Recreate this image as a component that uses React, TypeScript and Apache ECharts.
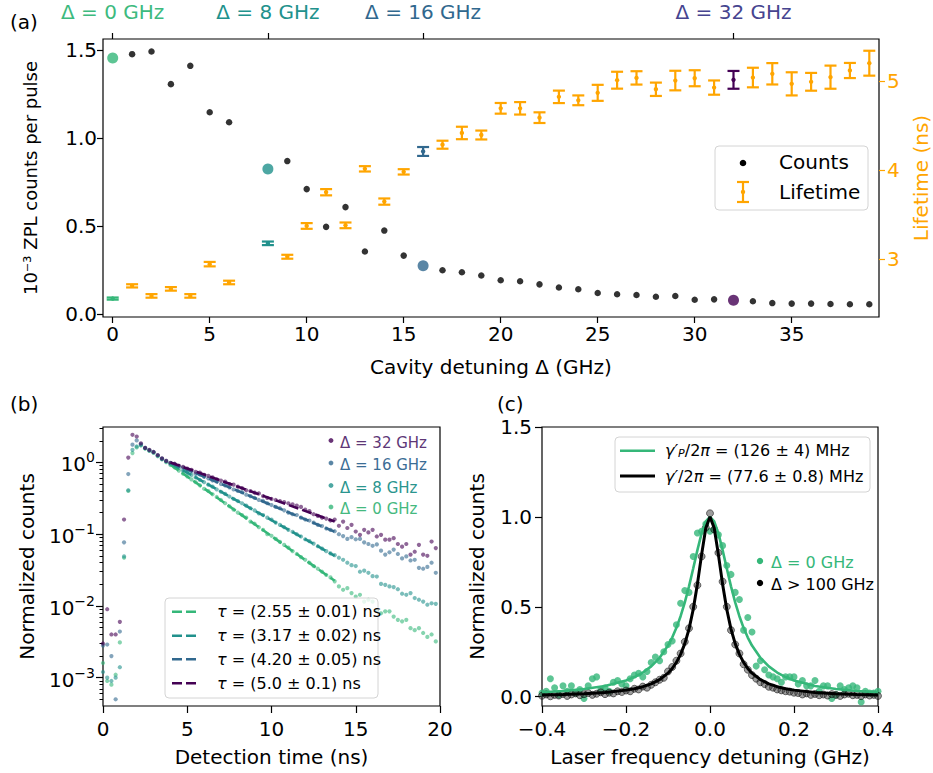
import React, { useEffect, useRef } from "react";
import * as echarts from "echarts";

const FONT = "DejaVu Sans";

// ---------- Panel (a) ----------
const detuning = [0, 1, 2, 3, 4, 5, 6, 8, 9, 10, 11, 12, 13, 14, 15, 16, 17, 18, 19, 20, 21, 22, 23, 24, 25, 26, 27, 28, 29, 30, 31, 32, 33, 34, 35, 36, 37, 38, 39];
const counts = [1.453, 1.475, 1.49, 1.305, 1.409, 1.146, 1.089, 0.824, 0.869, 0.71, 0.496, 0.608, 0.356, 0.475, 0.333, 0.276, 0.25, 0.239, 0.22, 0.193, 0.188, 0.17, 0.152, 0.142, 0.121, 0.114, 0.11, 0.1, 0.104, 0.083, 0.085, 0.08, 0.074, 0.064, 0.061, 0.061, 0.059, 0.057, 0.057];
const lifetime = [2.553, 2.696, 2.583, 2.662, 2.583, 2.94, 2.734, 3.174, 3.023, 3.369, 3.748, 3.376, 4.011, 3.643, 3.977, 4.206, 4.282, 4.414, 4.391, 4.691, 4.691, 4.586, 4.82, 4.781, 4.865, 5.007, 5.033, 4.905, 5.003, 5.029, 4.924, 5.011, 5.037, 5.079, 4.966, 4.989, 5.041, 5.116, 5.198];
const lifetimeErr = [0.012, 0.018, 0.02, 0.02, 0.02, 0.025, 0.02, 0.02, 0.022, 0.032, 0.035, 0.032, 0.03, 0.035, 0.03, 0.05, 0.045, 0.07, 0.05, 0.06, 0.07, 0.06, 0.07, 0.055, 0.09, 0.095, 0.075, 0.075, 0.11, 0.09, 0.08, 0.1, 0.11, 0.12, 0.13, 0.1, 0.13, 0.085, 0.14];
const highlightDetunings = [0, 8, 16, 32];
const highlightColors = ["#35b779", "#21918c", "#31688e", "#440154"];
const topTickLabels = ["Δ = 0 GHz", "Δ = 8 GHz", "Δ = 16 GHz", "Δ = 32 GHz"];
const topLabelColors = ["#3dba7e", "#21918c", "#31688e", "#46448f"];
const aXTicks = [0, 5, 10, 15, 20, 25, 30, 35];
const aYTicks = [0, 0.5, 1.0, 1.5];
const aY2Ticks = [3, 4, 5];

// ---------- Panel (b) ----------
const time = [0, 0.25, 0.5, 0.75, 1, 1.25, 1.5, 1.75, 2, 2.25, 2.5, 2.75, 3, 3.25, 3.5, 3.75, 4, 4.25, 4.5, 4.75, 5, 5.25, 5.5, 5.75, 6, 6.25, 6.5, 6.75, 7, 7.25, 7.5, 7.75, 8, 8.25, 8.5, 8.75, 9, 9.25, 9.5, 9.75, 10, 10.25, 10.5, 10.75, 11, 11.25, 11.5, 11.75, 12, 12.25, 12.5, 12.75, 13, 13.25, 13.5, 13.75, 14, 14.25, 14.5, 14.75, 15, 15.25, 15.5, 15.75, 16, 16.25, 16.5, 16.75, 17, 17.25, 17.5, 17.75, 18, 18.25, 18.5, 18.75, 19, 19.25, 19.5, 19.75];
const decay0 = [0.0016, 0.0009, 0.0008, 0.0011, 0.0031, 0.047, 0.40, 1.35, 1.62, 1.72, 1.56, 1.45, 1.36, 1.22, 1.10, 1.01,
  0.92, 0.85, 0.77, 0.70, 0.64, 0.58, 0.53, 0.48, 0.43, 0.40, 0.36, 0.33, 0.30, 0.27, 0.245, 0.22, 0.20, 0.185, 0.17, 0.15, 0.14, 0.125, 0.115, 0.10, 0.095, 0.086, 0.078, 0.071, 0.065, 0.058, 0.053, 0.048, 0.044, 0.040, 0.036, 0.033, 0.030, 0.027, 0.025, 0.022,
  0.0187, 0.0168, 0.0177, 0.0151, 0.0135, 0.0143, 0.0115, 0.0122, 0.0115, 0.0088, 0.0079, 0.0084, 0.0084, 0.0071, 0.0064, 0.0061, 0.0064, 0.0049, 0.0046, 0.0049, 0.0042, 0.0037, 0.0040, 0.0032];
const decay8 = [0.0012, 0.001, 0.0009, 0.001, 0.0014, 0.049, 0.41, 1.5, 1.67, 1.75, 1.58, 1.47, 1.38, 1.24, 1.12, 1.03,
  0.96, 0.91, 0.84, 0.77, 0.72, 0.67, 0.62, 0.57, 0.53, 0.49, 0.46, 0.42, 0.39, 0.365, 0.335, 0.31, 0.29, 0.27, 0.25, 0.23, 0.215, 0.195, 0.185, 0.17, 0.16, 0.145, 0.135, 0.125, 0.115, 0.108, 0.10, 0.093, 0.085, 0.08, 0.074, 0.068, 0.063, 0.058, 0.054, 0.051,
  0.047, 0.044, 0.040, 0.037, 0.036, 0.030, 0.031, 0.029, 0.026, 0.0257, 0.0203, 0.0197, 0.0187, 0.0183, 0.0171, 0.0148, 0.0143, 0.0151, 0.0129, 0.0122, 0.0115, 0.0104, 0.0109, 0.0107];
const decay16 = [0.0028, 0.0029, 0.002, 0.0005, 0.0044, 0.077, 0.69, 1.77, 2.03, 1.8, 1.6, 1.48, 1.4, 1.26, 1.13, 1.05,
  0.98, 0.95, 0.89, 0.85, 0.79, 0.76, 0.70, 0.68, 0.63, 0.60, 0.56, 0.54, 0.50, 0.48, 0.45, 0.42, 0.40, 0.385, 0.355, 0.34, 0.32, 0.30, 0.29, 0.27, 0.255, 0.24, 0.23, 0.215, 0.20, 0.19, 0.185, 0.17, 0.16, 0.155, 0.145, 0.135, 0.13, 0.12, 0.115, 0.11,
  0.100, 0.094, 0.086, 0.091, 0.085, 0.086, 0.077, 0.073, 0.069, 0.072, 0.059, 0.052, 0.056, 0.061, 0.053, 0.046, 0.049, 0.043, 0.044, 0.034, 0.033, 0.035, 0.040, 0.029];
const decay32 = [0.003, 0.009, 0.004, 0.004, 0.006, 0.16, 1.17, 2.43, 2.3, 1.85, 1.6, 1.5, 1.4, 1.27, 1.14, 1.05,
  0.99, 0.96, 0.90, 0.87, 0.82, 0.79, 0.74, 0.72, 0.67, 0.65, 0.62, 0.58, 0.56, 0.54, 0.50, 0.49, 0.46, 0.44, 0.41, 0.40, 0.38, 0.37, 0.34, 0.32, 0.31, 0.30, 0.29, 0.28, 0.27, 0.26, 0.25, 0.24, 0.22, 0.21, 0.19, 0.18, 0.17, 0.165, 0.155, 0.16,
  0.131, 0.150, 0.122, 0.135, 0.109, 0.098, 0.115, 0.106, 0.115, 0.093, 0.098, 0.084, 0.084, 0.088, 0.073, 0.067, 0.073, 0.052, 0.057, 0.071, 0.052, 0.050, 0.079, 0.064];
const fitTime = [4, 13.75];
const fit0 = [0.933, 0.0224];
const fit8 = [0.977, 0.05];
const fit16 = [1.0, 0.108];
const fit32 = [1.0, 0.15];
const decayNames = ["Δ = 0 GHz", "Δ = 8 GHz", "Δ = 16 GHz", "Δ = 32 GHz"];
const decayColors = ["#35b779", "#21918c", "#31688e", "#440154"];
const decayTextColors = ["#45b97f", "#2a958e", "#3b6d95", "#5e3777"];
const tauLabels = ["(2.55 ± 0.01) ns", "(3.17 ± 0.02) ns", "(4.20 ± 0.05) ns", "(5.0 ± 0.1) ns"];
const bXTicks = [0, 5, 10, 15, 20];
const bYTicks = [0.001, 0.01, 0.1, 1];
const bYTickExponents = ["−3", "−2", "−1", "0"];
const bMinorTicks = [0.0005, 0.0006, 0.0007, 0.0008, 0.0009, 0.002, 0.003, 0.004, 0.005, 0.006, 0.007, 0.008, 0.009, 0.02, 0.03, 0.04, 0.05, 0.06, 0.07, 0.08, 0.09, 0.2, 0.3, 0.4, 0.5, 0.6, 0.7, 0.8, 0.9, 2, 3];

// ---------- Panel (c) ----------
const laserX = [-0.40, -0.39, -0.38, -0.37, -0.36, -0.35, -0.34, -0.33, -0.32, -0.31, -0.30, -0.29, -0.28, -0.27, -0.26, -0.25, -0.24, -0.23, -0.22, -0.21, -0.20, -0.19, -0.18, -0.17, -0.16, -0.15, -0.14, -0.13, -0.12, -0.11, -0.10, -0.09, -0.08, -0.07, -0.06, -0.05, -0.04, -0.03, -0.02, -0.01, 0, 0.01, 0.02, 0.03, 0.04, 0.05, 0.06, 0.07, 0.08, 0.09, 0.10, 0.11, 0.12, 0.13, 0.14, 0.15, 0.16, 0.17, 0.18, 0.19, 0.20, 0.21, 0.22, 0.23, 0.24, 0.25, 0.26, 0.27, 0.28, 0.29, 0.30, 0.31, 0.32, 0.33, 0.34, 0.35, 0.36, 0.37, 0.38, 0.39, 0.40];
const specResonant = [0.02, 0.03, 0.10, 0.05, 0.01, 0.06, 0.03, 0.06, 0.02, 0.04, -0.01, 0.06, 0.10, 0.11, 0.04, 0.05, 0.03, 0.08, 0.09, 0.07, 0.06, 0.10, 0.12, 0.13, 0.11, 0.14, 0.19, 0.22, 0.20, 0.25, 0.29, 0.31, 0.40, 0.52, 0.59, 0.58, 0.78, 0.91, 0.92, 0.96, 0.92, 0.93, 0.90, 0.84, 0.73, 0.68, 0.58, 0.54, 0.37, 0.44, 0.36, 0.17, 0.20, 0.15, 0.12, 0.11, 0.10, 0.08, 0.11, 0.11, 0.11, 0.07, 0.09, 0.06, 0.06, 0.09, 0.03, 0.06, 0.06, -0.01, 0.01, 0.06, 0.04, 0.05, 0.06, 0.05, -0.03, 0.03, 0.02, 0.02, 0.03];
const specFar = [0.005, 0.012, 0.002, 0.010, 0.006, 0.015, 0.004, 0.012, 0.018, 0.008, 0.014, 0.020, 0.010, 0.016, 0.024, 0.014, 0.022, 0.018, 0.030, 0.026, 0.034, 0.030, 0.044, 0.040, 0.056, 0.050, 0.066, 0.080, 0.094, 0.105, 0.140, 0.165, 0.200, 0.240, 0.305, 0.38, 0.50, 0.62, 0.78, 0.94, 1.02, 0.93, 0.80, 0.64, 0.50, 0.37, 0.29, 0.24, 0.18, 0.15, 0.12, 0.10, 0.08, 0.07, 0.055, 0.05, 0.040, 0.035, 0.030, 0.028, 0.022, 0.020, 0.012, 0.018, 0.010, 0.015, 0.008, 0.012, 0.006, 0.014, 0.010, 0.004, 0.012, 0.016, 0.008, 0.010, 0.003, 0.012, 0.006, 0.010, 0.004];
const fitX = [-0.4, -0.35, -0.3, -0.25, -0.2, -0.18, -0.16, -0.14, -0.12, -0.1, -0.09, -0.08, -0.07, -0.06, -0.05, -0.04, -0.03, -0.02, -0.01, 0, 0.01, 0.02, 0.03, 0.04, 0.05, 0.06, 0.07, 0.08, 0.09, 0.1, 0.12, 0.14, 0.16, 0.18, 0.2, 0.25, 0.3, 0.35, 0.4];
const fitResonant = [0.0242, 0.0314, 0.0422, 0.0597, 0.0903, 0.1091, 0.1342, 0.1684, 0.2161, 0.2841, 0.3289, 0.3828, 0.4475, 0.5244, 0.6135, 0.7127, 0.8152, 0.9084, 0.9754, 1, 0.9754, 0.9084, 0.8152, 0.7127, 0.6135, 0.5244, 0.4475, 0.3828, 0.3289, 0.2841, 0.2161, 0.1684, 0.1342, 0.1091, 0.0903, 0.0597, 0.0422, 0.0314, 0.0242];
const fitFar = [0.0093, 0.0121, 0.0165, 0.0235, 0.0363, 0.0444, 0.0555, 0.0713, 0.0946, 0.1308, 0.1567, 0.1904, 0.235, 0.2949, 0.3759, 0.4848, 0.6259, 0.7901, 0.9377, 1, 0.9377, 0.7901, 0.6259, 0.4848, 0.3759, 0.2949, 0.235, 0.1904, 0.1567, 0.1308, 0.0946, 0.0713, 0.0555, 0.0444, 0.0363, 0.0235, 0.0165, 0.0121, 0.0093];
const cXTicks = [-0.4, -0.2, 0, 0.2, 0.4];
const cYTicks = [0, 0.5, 1.0, 1.5];

const ORANGE = "#ffa500";

function axisBase(tickLen: number, margin: number, ticks: number[], formatter: (v: number) => string, color = "#000") {
  return {
    type: "value",
    axisLine: { show: false, onZero: false },
    splitLine: { show: false },
    axisTick: { show: true, length: tickLen, customValues: ticks, lineStyle: { color, width: 1.2 } },
    axisLabel: { customValues: ticks, margin, fontSize: 20, fontFamily: FONT, color, formatter },
    nameLocation: "middle",
    nameTextStyle: { fontSize: 20, fontFamily: FONT, color },
  };
}

function buildOption() {
  const hlIndex = (x: number) => highlightDetunings.indexOf(x);
  const gridStyle = { show: true, borderColor: "#000", borderWidth: 1.2, backgroundColor: "rgba(0,0,0,0)", containLabel: false, outerBoundsMode: "none" };

  const topRich: any = {};
  topLabelColors.forEach((c, i) => {
    topRich["c" + i] = { color: c, fontSize: 20, fontFamily: FONT };
  });

  const fmtMinus = (v: number) => (v < 0 ? "−" : "") + Math.abs(v).toFixed(1);

  const xAxis: any[] = [
    { ...axisBase(6, 7, aXTicks, (v) => String(v)), gridIndex: 0, min: -0.5, max: 39.5, position: "bottom", name: "Cavity detuning Δ (GHz)", nameGap: 40 },
    {
      ...axisBase(6, 17, highlightDetunings, (v) => {
        const i = highlightDetunings.indexOf(Math.round(v));
        return "{c" + i + "|" + topTickLabels[i] + "}";
      }),
      gridIndex: 0, min: -0.5, max: 39.5, position: "top",
    },
    { ...axisBase(7, 13, bXTicks, (v) => String(v)), gridIndex: 1, min: 0, max: 20, position: "bottom", name: "Detection time (ns)", nameGap: 41 },
    { ...axisBase(7, 13, cXTicks, fmtMinus), gridIndex: 2, min: -0.4, max: 0.4, position: "bottom", name: "Laser frequency detuning (GHz)", nameGap: 41 },
  ];
  xAxis[1].axisLabel.rich = topRich;

  const bLog: any = {
    ...axisBase(7, 8, bYTicks, (v) => {
      const p = Math.round(Math.log10(v));
      return "{b|10}{s|" + bYTickExponents[p + 3] + "}";
    }),
    type: "log", logBase: 10, gridIndex: 1, min: 0.000403, max: 3.12, position: "left", name: "Normalized counts", nameGap: 66, nameRotate: 90,
  };
  bLog.axisLabel.rich = {
    b: { fontSize: 20, fontFamily: FONT, color: "#000", lineHeight: 24, verticalAlign: "bottom" },
    s: { fontSize: 14, fontFamily: FONT, color: "#000", lineHeight: 24, verticalAlign: "top" },
  };

  const aLeft: any = { ...axisBase(6, 6, aYTicks, (v) => v.toFixed(1)), gridIndex: 0, min: -0.015, max: 1.561, position: "left", name: "10⁻³ ZPL counts per pulse", nameGap: 64, nameRotate: 90 };
  aLeft.nameTextStyle = { fontSize: 18, fontFamily: FONT, color: "#000" };

  const yAxis: any[] = [
    aLeft,
    { ...axisBase(6, 8, aY2Ticks, (v) => String(Math.round(v)), ORANGE), gridIndex: 0, min: 2.346, max: 5.47, position: "right", name: "Lifetime (ns)", nameGap: 28, nameRotate: 90 },
    bLog,
    {
      type: "log", logBase: 10, gridIndex: 1, min: 0.000403, max: 3.12, position: "left",
      axisLine: { show: false, onZero: false }, splitLine: { show: false },
      axisTick: { show: true, length: 3.5, customValues: bMinorTicks, lineStyle: { color: "#000", width: 1 } },
      axisLabel: { show: false },
    },
    { ...axisBase(7, 10, cYTicks, (v) => v.toFixed(1)), gridIndex: 2, min: -0.052, max: 1.5, position: "left", name: "Normalized counts", nameGap: 55, nameRotate: 90 },
  ];

  const series: any[] = [];

  // (a) counts
  series.push({
    type: "scatter",
    xAxisIndex: 0,
    yAxisIndex: 0,
    z: 3,
    data: detuning.map((x, i) => {
      const h = hlIndex(x);
      return {
        value: [x, counts[i]],
        symbolSize: h >= 0 ? 11 : 6.5,
        itemStyle: { color: h >= 0 ? highlightColors[h] : "#000" },
      };
    }),
  });

  // (a) lifetime error bars
  series.push({
    type: "custom",
    xAxisIndex: 0,
    yAxisIndex: 1,
    z: 4,
    data: detuning.map((x, i) => [x, lifetime[i], lifetimeErr[i]]),
    renderItem: (params: any, api: any) => {
      const x = api.value(0);
      const y = api.value(1);
      const e = api.value(2);
      const top = api.coord([x, y + e]);
      const bot = api.coord([x, y - e]);
      const mid = api.coord([x, y]);
      const h = hlIndex(x);
      const color = h >= 0 ? highlightColors[h] : ORANGE;
      const hw = 6;
      const st = { stroke: color, lineWidth: 2.2 };
      return {
        type: "group",
        children: [
          { type: "line", shape: { x1: top[0], y1: top[1], x2: bot[0], y2: bot[1] }, style: st },
          { type: "line", shape: { x1: top[0] - hw, y1: top[1], x2: top[0] + hw, y2: top[1] }, style: st },
          { type: "line", shape: { x1: bot[0] - hw, y1: bot[1], x2: bot[0] + hw, y2: bot[1] }, style: st },
          { type: "circle", shape: { cx: mid[0], cy: mid[1], r: 2.2 }, style: { fill: color } },
        ],
      };
    },
  });

  // (b) decays
  const decays = [decay0, decay8, decay16, decay32];
  const fits = [fit0, fit8, fit16, fit32];
  decays.forEach((arr, k) => {
    series.push({
      type: "scatter",
      name: decayNames[k],
      xAxisIndex: 2,
      yAxisIndex: 2,
      symbolSize: 4.2,
      itemStyle: { color: decayColors[k], opacity: 0.6 },
      data: time.map((t, i) => [t, arr[i]]),
    });
    series.push({
      type: "line",
      xAxisIndex: 2,
      yAxisIndex: 2,
      symbol: "none",
      lineStyle: { color: decayColors[k], width: 2.6, type: [10, 4] },
      data: fitTime.map((t, i) => [t, fits[k][i]]),
    });
  });

  // (c) spectra
  series.push({
    type: "scatter",
    xAxisIndex: 3,
    yAxisIndex: 4,
    symbolSize: 7,
    itemStyle: { color: "#35b779" },
    data: laserX.map((x, i) => [x, specResonant[i]]),
  });
  series.push({
    type: "scatter",
    xAxisIndex: 3,
    yAxisIndex: 4,
    symbolSize: 7,
    itemStyle: { color: "rgba(50,50,50,0.6)", borderColor: "rgba(0,0,0,0.8)", borderWidth: 0.8 },
    data: laserX.map((x, i) => [x, specFar[i]]),
  });
  series.push({
    type: "line",
    xAxisIndex: 3,
    yAxisIndex: 4,
    symbol: "none",
    lineStyle: { color: "#35b779", width: 2.6 },
    data: fitX.map((x, i) => [x, fitResonant[i]]),
  });
  series.push({
    type: "line",
    xAxisIndex: 3,
    yAxisIndex: 4,
    symbol: "none",
    lineStyle: { color: "#000", width: 3 },
    data: fitX.map((x, i) => [x, fitFar[i]]),
  });

  // ---------- graphics: panel labels and legends ----------
  const txt = (x: number, y: number, text: string, size: number, fill = "#000", extra: any = {}) => ({
    type: "text",
    x,
    y,
    z: 100,
    style: { text, fontSize: size, fontFamily: FONT, fill, verticalAlign: "middle", align: "left", ...extra },
  });
  const graphic: any[] = [];
  graphic.push(txt(10, 22, "(a)", 20));
  graphic.push(txt(10, 404, "(b)", 20));
  graphic.push(txt(497, 404, "(c)", 20));

  // legend (a)
  graphic.push({ type: "rect", z: 99, shape: { x: 715, y: 146, width: 153, height: 64, r: 4 }, style: { fill: "rgba(255,255,255,0.8)", stroke: "#d4d4d4", lineWidth: 1 } });
  graphic.push({ type: "circle", z: 100, shape: { cx: 743, cy: 163, r: 3.3 }, style: { fill: "#000" } });
  graphic.push(txt(779, 162, "Counts", 20));
  graphic.push({ type: "line", z: 100, shape: { x1: 743, y1: 182, x2: 743, y2: 202 }, style: { stroke: ORANGE, lineWidth: 2.2 } });
  graphic.push({ type: "line", z: 100, shape: { x1: 737, y1: 182, x2: 749, y2: 182 }, style: { stroke: ORANGE, lineWidth: 2.2 } });
  graphic.push({ type: "line", z: 100, shape: { x1: 737, y1: 202, x2: 749, y2: 202 }, style: { stroke: ORANGE, lineWidth: 2.2 } });
  graphic.push({ type: "circle", z: 100, shape: { cx: 743, cy: 192, r: 2.2 }, style: { fill: ORANGE } });
  graphic.push(txt(779, 192, "Lifetime", 20));

  // legend (b) top-right (reverse order)
  const bRows = [509, 487.5, 465, 442.5];
  decayNames.forEach((n, k) => {
    graphic.push({ type: "circle", z: 100, shape: { cx: 331, cy: bRows[k] - 2, r: 2.4 }, style: { fill: decayColors[k], opacity: 0.8 } });
    graphic.push(txt(340, bRows[k], n, 15, decayTextColors[k]));
  });

  // legend (b) fits
  graphic.push({ type: "rect", z: 99, shape: { x: 165, y: 598, width: 213, height: 100, r: 4 }, style: { fill: "rgba(255,255,255,0.8)", stroke: "#d4d4d4", lineWidth: 1 } });
  const fitRows = [611.7, 635.7, 659.3, 683.3];
  tauLabels.forEach((l, k) => {
    graphic.push({ type: "line", z: 100, shape: { x1: 172, y1: fitRows[k], x2: 200, y2: fitRows[k] }, style: { stroke: decayColors[k], lineWidth: 2.6, lineDash: [10, 4] } });
    graphic.push(txt(217, fitRows[k], "{i|τ} = " + l, 16, "#000", { rich: { i: { fontStyle: "italic", fontSize: 16, fontFamily: FONT } } }));
  });

  // legend (c) fits
  graphic.push({ type: "rect", z: 99, shape: { x: 615, y: 437, width: 255, height: 55, r: 4 }, style: { fill: "rgba(255,255,255,0.8)", stroke: "#d4d4d4", lineWidth: 1 } });
  graphic.push({ type: "line", z: 100, shape: { x1: 620, y1: 450.7, x2: 655, y2: 450.7 }, style: { stroke: "#35b779", lineWidth: 2.6 } });
  graphic.push({ type: "line", z: 100, shape: { x1: 620, y1: 476, x2: 655, y2: 476 }, style: { stroke: "#000", lineWidth: 3 } });
  const cRich = {
    i: { fontStyle: "italic", fontSize: 16, fontFamily: FONT },
    sub: { fontStyle: "italic", fontSize: 11, fontFamily: FONT, verticalAlign: "bottom" },
  };
  graphic.push(txt(665, 450.7, "{i|γ′}{sub|P}/2{i|π} = (126 ± 4) MHz", 16, "#000", { rich: cRich }));
  graphic.push(txt(665, 476, "{i|γ′}/2{i|π} = (77.6 ± 0.8) MHz", 16, "#000", { rich: cRich }));

  // legend (c) points
  graphic.push({ type: "circle", z: 100, shape: { cx: 760, cy: 561, r: 3.2 }, style: { fill: "#35b779" } });
  graphic.push(txt(771, 562, "Δ = 0 GHz", 16, "#35b779"));
  graphic.push({ type: "circle", z: 100, shape: { cx: 760, cy: 583, r: 3.2 }, style: { fill: "#000" } });
  graphic.push(txt(771, 584, "Δ > 100 GHz", 16, "#000"));

  return {
    animation: false,
    backgroundColor: "#fff",
    textStyle: { fontFamily: FONT },
    grid: [
      { ...gridStyle, left: 103, top: 39, width: 776, height: 278 },
      { ...gridStyle, left: 103, top: 427, width: 337, height: 279 },
      { ...gridStyle, left: 542, top: 427, width: 336, height: 279 },
    ],
    xAxis,
    yAxis,
    series,
    graphic,
  };
}

export default function App() {
  const ref = useRef<HTMLDivElement>(null);
  useEffect(() => {
    if (!ref.current) return;
    const chart = echarts.init(ref.current, null, { renderer: "svg" });
    chart.setOption(buildOption() as any);
    return () => chart.dispose();
  }, []);
  return (
    <div
      ref={ref}
      style={{ position: "fixed", left: 0, top: 0, width: 933, height: 773, background: "#fff" }}
    />
  );
}
